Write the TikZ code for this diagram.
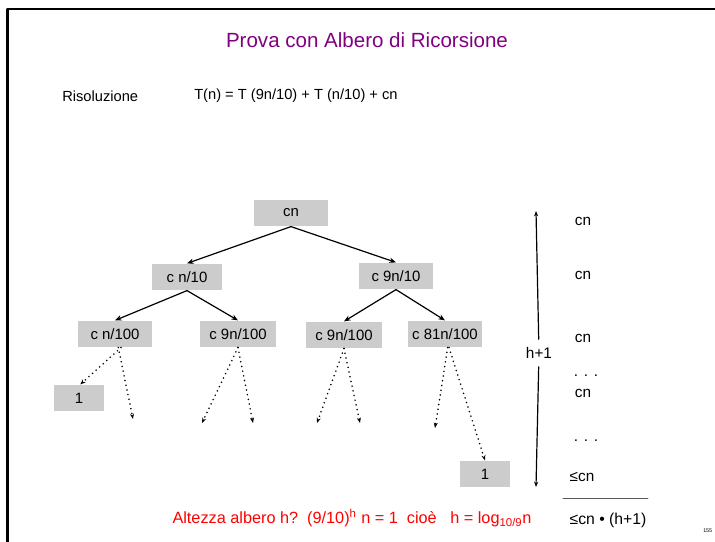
\documentclass[tikz,border=0pt]{standalone}
\usepackage{fontspec}
\setmainfont{Liberation Sans}
\usetikzlibrary{arrows.meta}
\definecolor{boxgray}{RGB}{204,204,204}
\definecolor{titlepurple}{RGB}{128,0,128}
\definecolor{notered}{RGB}{255,0,0}
\begin{document}
\begin{tikzpicture}[x=0.75pt, y=-0.75pt, line cap=round, line join=round,
    val/.style={fill=boxgray, minimum height=20pt, inner sep=0pt, font=\fontsize{11.2}{13}\selectfont},
    edge/.style={line width=0.9pt, -{Stealth[length=5pt, width=4pt]}},
    more/.style={line width=1.3pt, dash pattern=on 0pt off 3.6pt, -{Stealth[length=4pt, width=3pt]}},
    cost/.style={font=\fontsize{11.5}{13}\selectfont, inner sep=1pt},
    txt/.style={font=\fontsize{11}{13}\selectfont, inner sep=0pt}]
  \useasboundingbox (0,0) rectangle (715,542);
  % cornice
  \draw[line width=1.6pt, line cap=butt] (7.5,542) -- (7.5,9) -- (715,9);
  % titolo e ricorrenza
  \node[font=\fontsize{15.4}{18}\selectfont, text=titlepurple] (title) at (367,40) {Prova con Albero di Ricorsione};
  \node[txt, anchor=west] (ris) at (62,96) {Risoluzione};
  \node[txt, anchor=west] (rec) at (194,96) {T(n) = T (9n/10) + T (n/10) + cn};
  % livello 0 e 1
  \node[val, minimum width=56pt] (r) at (291,213) {cn};
  \node[val, minimum width=53pt] (l) at (187,277) {c n/10};
  \node[val, minimum width=55pt] (rr) at (396,276) {c 9n/10};
  \draw[edge] (r.south) -- (l.north);
  \draw[edge] (r.south) -- (rr.north);
  % livello 2
  \node[val, minimum width=55pt] (ll) at (115,334) {c n/100};
  \node[val, minimum width=57pt] (lr) at (238,334) {c 9n/100};
  \node[val, minimum width=57pt] (rl) at (344,335) {c 9n/100};
  \node[val, minimum width=55.5pt] (rrr) at (445,334) {c 81n/100};
  \draw[edge] (l.south) -- (ll.north);
  \draw[edge] (l.south) -- (lr.north);
  \draw[edge] (rr.south) -- (rl.north);
  \draw[edge] (rr.south) -- (rrr.north);
  % foglie e rami puntinati
  \node[val, minimum width=37pt] (lf) at (79,398) {1};
  \node[val, minimum width=37pt] (rf) at (485,474) {1};
  \coordinate (d1) at (133,419);
  \coordinate (d2) at (202,423);
  \coordinate (d3) at (253,423);
  \coordinate (d4) at (317,423);
  \coordinate (d5) at (360,423);
  \coordinate (d6) at (435,428);
  \draw[more] ([xshift=4.5pt]ll.south) -- ([xshift=1pt]lf.north);
  \draw[more] ([xshift=2.5pt]ll.south) -- (d1);
  \draw[more] (lr.south) -- (d2);
  \draw[more] (lr.south) -- (d3);
  \draw[more] (rl.south) -- (d4);
  \draw[more] (rl.south) -- (d5);
  \draw[more] ([xshift=2pt]rrr.south) -- (d6);
  \draw[more] ([xshift=3pt]rrr.south) -- (rf.north);
  % altezza
  \coordinate (ht) at (536,211);
  \coordinate (hb) at (536,487);
  \node[cost, fill=white, inner xsep=2pt, inner ysep=6pt] (h) at (539,353) {h+1};
  \draw[line width=0.9pt, -{Stealth[length=4pt, width=3pt]}] (h) -- (ht);
  \draw[line width=0.9pt, -{Stealth[length=4pt, width=3pt]}] (h) -- (hb);
  % costi per livello
  \node[cost] (c0) at (583,221) {cn};
  \node[cost] (c1) at (583,275) {cn};
  \node[cost] (c2) at (583,338) {cn};
  \node[cost] (p1) at (586,376) {. . .};
  \node[cost] (c3) at (583,393) {cn};
  \node[cost] (p2) at (586,441) {. . .};
  \node[cost] (c4) at (582,477) {≤cn};
  \coordinate (sl) at (563,498);
  \coordinate (sr) at (648,498);
  \draw[line width=0.6pt, gray!70!black] (sl) -- (sr);
  \node[cost, font=\fontsize{11.8}{14}\selectfont] (tot) at (608,520) {≤cn • (h+1)};
  % altezza dell'albero
  \node[txt, font=\fontsize{12.2}{14}\selectfont, text=notered] (alt) at (352,518) {Altezza albero h?\ \ (9/10)\textsuperscript{h} n = 1\ \ cioè\ \ \ h = log\textsubscript{10/9}n};
  \node[font=\fontsize{4}{5}\selectfont, inner sep=0pt, anchor=west] (pg) at (703,531) {155};
\end{tikzpicture}
\end{document}
